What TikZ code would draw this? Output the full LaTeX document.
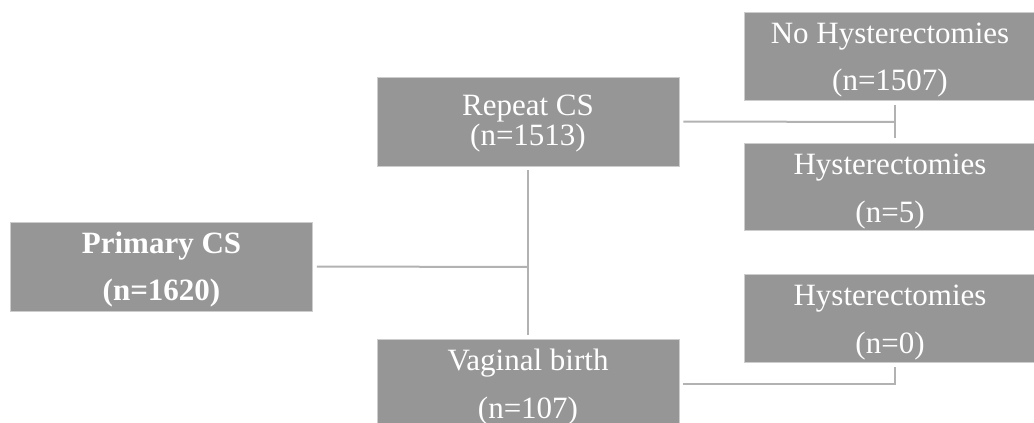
\documentclass[tikz,border=0pt]{standalone}
\usepackage{fontspec}
\setmainfont{Liberation Serif}
\usetikzlibrary{positioning}
\definecolor{boxgray}{RGB}{150,150,150}
\definecolor{boxedge}{RGB}{205,205,205}
\definecolor{linkgray}{RGB}{178,178,178}

\begin{document}
\begin{tikzpicture}[
  x=1pt, y=-1pt,
  box/.style={fill=boxgray,draw=boxedge,line width=0.8pt,minimum height=89pt,inner sep=0pt},
  wide/.style={box,minimum width=302pt},
  lbl/.style={text=white,align=center,anchor=base,inner sep=0pt,font=\fontsize{31}{48}\selectfont},
  link/.style={draw=linkgray,line width=2pt}
]
\useasboundingbox (0,0) rectangle (1034,423);
% boxes
\node[wide] (prim) at (161.5,266.5) {};
\node[wide] (rep) at (528,121.5) {};
\node[wide] (vag) at (528,383.5) {};
\node[box,minimum width=292pt,minimum height=88pt] (nohyst) at (890,56) {};
\node[box,minimum width=292pt,minimum height=87pt] (hyst5) at (890,186.5) {};
\node[box,minimum width=292pt,minimum height=88pt] (hyst0) at (890,318) {};
% texts (anchored at the baseline of the last line)
\node[lbl,font=\fontsize{31}{47}\selectfont\bfseries] (primtxt) at (161.5,300) {Primary CS\\(n=1620)};
\node[lbl,font=\fontsize{31}{30}\selectfont] (reptxt) at (528,145) {Repeat CS\\(n=1513)};
\node[lbl] (vagtxt) at (528,418) {Vaginal birth\\(n=107)};
\node[lbl,font=\fontsize{31}{47}\selectfont] (nohysttxt) at (890,90) {No Hysterectomies\\(n=1507)};
\node[lbl] (hyst5txt) at (890,222) {Hysterectomies\\(n=5)};
\node[lbl] (hyst0txt) at (890,353) {Hysterectomies\\(n=0)};
% connectors
\coordinate (split) at (528,267);
\coordinate (fork) at (895,122);
\draw[link,shorten <=4pt] (prim.east) -- (split);
\draw[link,shorten <=4pt,shorten >=4pt] (rep.south) -- (vag.north);
\draw[link,shorten <=4pt] (rep.east) -- (fork);
\draw[link,shorten <=5pt,shorten >=5pt] (fork |- nohyst.south) -- (fork |- hyst5.north);
\draw[link,shorten <=4pt,shorten >=5pt] (vag.east) -| (fork |- hyst0.south);
\end{tikzpicture}
\end{document}
